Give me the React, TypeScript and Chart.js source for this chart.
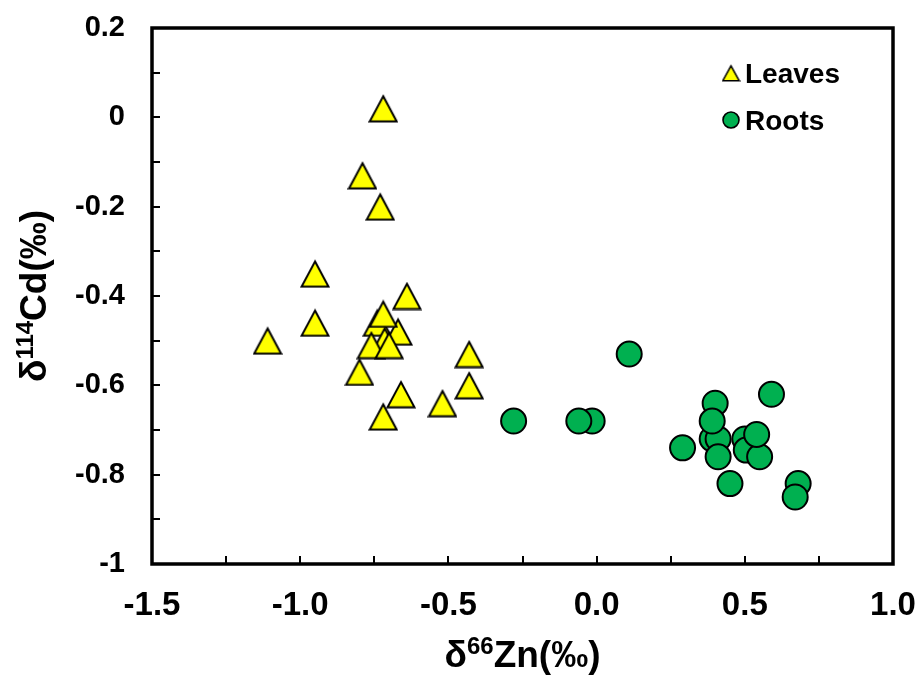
import React, { useEffect, useRef } from 'react';
import { Chart, registerables } from 'chart.js';

Chart.register(...registerables);

// ---------- data ----------
const seriesNames = ['Leaves', 'Roots'];

const leavesX = [-0.72, -0.79, -0.73, -0.95, -0.95, -1.11, -0.64, -0.74, -0.67, -0.72, -0.715, -0.76, -0.70, -0.80, -0.66, -0.72, -0.52, -0.43, -0.43];
const leavesY = [0.02, -0.13, -0.20, -0.35, -0.46, -0.50, -0.40, -0.46, -0.48, -0.44, -0.50, -0.51, -0.51, -0.57, -0.62, -0.67, -0.64, -0.53, -0.60];

const rootsX = [-0.28, -0.015, -0.06, 0.11, 0.29, 0.40, 0.39, 0.41, 0.39, 0.41, 0.45, 0.59, 0.50, 0.505, 0.55, 0.54, 0.68, 0.67];
const rootsY = [-0.68, -0.68, -0.68, -0.53, -0.74, -0.64, -0.72, -0.72, -0.68, -0.76, -0.82, -0.62, -0.72, -0.745, -0.76, -0.71, -0.82, -0.85];

const xTickLabels = [-1.5, -1.0, -0.5, 0.0, 0.5, 1.0];
const yTickLabels = [-1, -0.8, -0.6, -0.4, -0.2, 0, 0.2];
const xTickMarks = [-1.25, -1.0, -0.75, -0.5, -0.25, 0.0, 0.25, 0.5, 0.75];
const yTickMarks = [-0.9, -0.8, -0.7, -0.6, -0.5, -0.4, -0.3, -0.2, -0.1, 0.0, 0.1];

const xTitleParts = [
  { t: 'δ', sup: false },
  { t: '66', sup: true },
  { t: 'Zn(‰)', sup: false },
];
const yTitleParts = [
  { t: 'δ', sup: false },
  { t: '114', sup: true },
  { t: 'Cd(‰)', sup: false },
];

const YELLOW = '#FFFF00';
const GREEN = '#00B050';
const FONT = "'Liberation Sans', Arial, sans-serif";

function makeTriangle(w: number, h: number, lw: number, fill: string) {
  const c = document.createElement('canvas');
  c.width = w;
  c.height = h;
  const g = c.getContext('2d')!;
  const top = lw + 0.3;
  const bot = h - lw / 2 - 0.5;
  g.beginPath();
  g.moveTo(w / 2, top);
  g.lineTo(w - lw / 2 - 0.5, bot);
  g.lineTo(lw / 2 + 0.5, bot);
  g.closePath();
  g.fillStyle = fill;
  g.fill();
  g.lineWidth = lw;
  g.lineJoin = 'miter';
  g.strokeStyle = '#000';
  g.stroke();
  return c;
}

function partsWidth(ctx: CanvasRenderingContext2D, parts: { t: string; sup: boolean }[], size: number) {
  let w = 0;
  for (const p of parts) {
    ctx.font = `bold ${p.sup ? Math.round(size * 0.65) : size}px ${FONT}`;
    w += ctx.measureText(p.t).width;
  }
  return w;
}

function drawParts(ctx: CanvasRenderingContext2D, parts: { t: string; sup: boolean }[], size: number, cx: number, baseline: number) {
  const total = partsWidth(ctx, parts, size);
  let x = cx - total / 2;
  ctx.textAlign = 'left';
  ctx.textBaseline = 'alphabetic';
  ctx.fillStyle = '#000';
  for (const p of parts) {
    ctx.font = `bold ${p.sup ? Math.round(size * 0.65) : size}px ${FONT}`;
    ctx.fillText(p.t, x, p.sup ? baseline - size * 0.36 : baseline);
    x += ctx.measureText(p.t).width;
  }
}

export default function App() {
  const ref = useRef<HTMLCanvasElement>(null);

  useEffect(() => {
    const canvas = ref.current!;
    const tri = makeTriangle(30, 29, 2, YELLOW);
    const triLegend = makeTriangle(19, 18, 1.6, YELLOW);

    const framePlugin = {
      id: 'frame',
      beforeDatasetsDraw(chart: any) {
        const { ctx, chartArea: a, scales } = chart;
        ctx.save();
        ctx.strokeStyle = '#000';
        ctx.lineWidth = 2;
        ctx.beginPath();
        for (const v of xTickMarks) {
          const px = Math.round(scales.x.getPixelForValue(v));
          ctx.moveTo(px, a.bottom);
          ctx.lineTo(px, a.bottom - 8);
        }
        for (const v of yTickMarks) {
          const py = Math.round(scales.y.getPixelForValue(v));
          ctx.moveTo(a.left, py);
          ctx.lineTo(a.left + 8, py);
        }
        ctx.stroke();
        ctx.lineWidth = 3.5;
        ctx.lineJoin = 'miter';
        ctx.strokeRect(a.left, a.top, a.right - a.left, a.bottom - a.top);
        ctx.restore();
      },
      afterDraw(chart: any) {
        const { ctx, chartArea: a } = chart;
        ctx.save();
        // axis titles
        drawParts(ctx, xTitleParts, 37, (a.left + a.right) / 2, 667);
        ctx.save();
        ctx.translate(46, (a.top + a.bottom) / 2);
        ctx.rotate(-Math.PI / 2);
        drawParts(ctx, yTitleParts, 37, 0, 0);
        ctx.restore();
        // legend
        ctx.drawImage(triLegend, 731 - triLegend.width / 2, 73 - triLegend.height / 2);
        ctx.beginPath();
        ctx.arc(731, 120, 8, 0, Math.PI * 2);
        ctx.fillStyle = GREEN;
        ctx.fill();
        ctx.lineWidth = 1.6;
        ctx.strokeStyle = '#000';
        ctx.stroke();
        ctx.fillStyle = '#000';
        ctx.font = `bold 28px ${FONT}`;
        ctx.textAlign = 'left';
        ctx.textBaseline = 'alphabetic';
        ctx.fillText(seriesNames[0], 745, 83);
        ctx.fillText(seriesNames[1], 745, 130);
        ctx.restore();
      },
    };

    const chart = new Chart(canvas, {
      type: 'scatter',
      data: {
        datasets: [
          {
            label: seriesNames[0],
            data: leavesX.map((x, i) => ({ x, y: leavesY[i] })),
            pointStyle: tri as any,
            pointRadius: 14,
            pointHoverRadius: 14,
            backgroundColor: YELLOW,
            borderColor: '#000',
          },
          {
            label: seriesNames[1],
            data: rootsX.map((x, i) => ({ x, y: rootsY[i] })),
            pointStyle: 'circle',
            pointRadius: 12.5,
            pointHoverRadius: 12.5,
            borderWidth: 2,
            backgroundColor: GREEN,
            borderColor: '#000',
          },
        ],
      },
      options: {
        responsive: false,
        animation: false,
        events: [],
        layout: { padding: { top: 28, right: 26, left: 0, bottom: 0 } },
        plugins: { legend: { display: false }, tooltip: { enabled: false } },
        scales: {
          x: {
            type: 'linear',
            min: -1.5,
            max: 1.0,
            afterBuildTicks: (s: any) => {
              s.ticks = xTickLabels.map((v) => ({ value: v }));
            },
            ticks: {
              callback: (v: any) => Number(v).toFixed(1),
              font: { family: FONT, size: 33, weight: 'bold' },
              color: '#000',
              padding: 14,
              maxRotation: 0,
              autoSkip: false,
            },
            grid: { display: false },
            border: { display: false },
            afterFit: (s: any) => {
              s.height = 116;
              s.paddingLeft = 0;
              s.paddingRight = 0;
              s.paddingTop = 0;
              s.paddingBottom = 0;
            },
          },
          y: {
            type: 'linear',
            min: -1,
            max: 0.2,
            afterBuildTicks: (s: any) => {
              s.ticks = yTickLabels.map((v) => ({ value: v }));
            },
            ticks: {
              callback: (v: any) => String(Math.round(Number(v) * 10) / 10),
              font: { family: FONT, size: 29, weight: 'bold' },
              color: '#000',
              padding: 19,
              autoSkip: false,
            },
            grid: { display: false },
            border: { display: false },
            afterFit: (s: any) => {
              s.width = 152;
              s.paddingLeft = 0;
              s.paddingRight = 0;
              s.paddingTop = 0;
              s.paddingBottom = 0;
            },
          },
        },
      },
      plugins: [framePlugin],
    });
    return () => chart.destroy();
  }, []);

  return (
    <div style={{ position: 'absolute', left: 0, top: 0, width: 919, height: 680, background: '#fff' }}>
      <canvas ref={ref} width={919} height={680} style={{ width: 919, height: 680, display: 'block' }} />
    </div>
  );
}
